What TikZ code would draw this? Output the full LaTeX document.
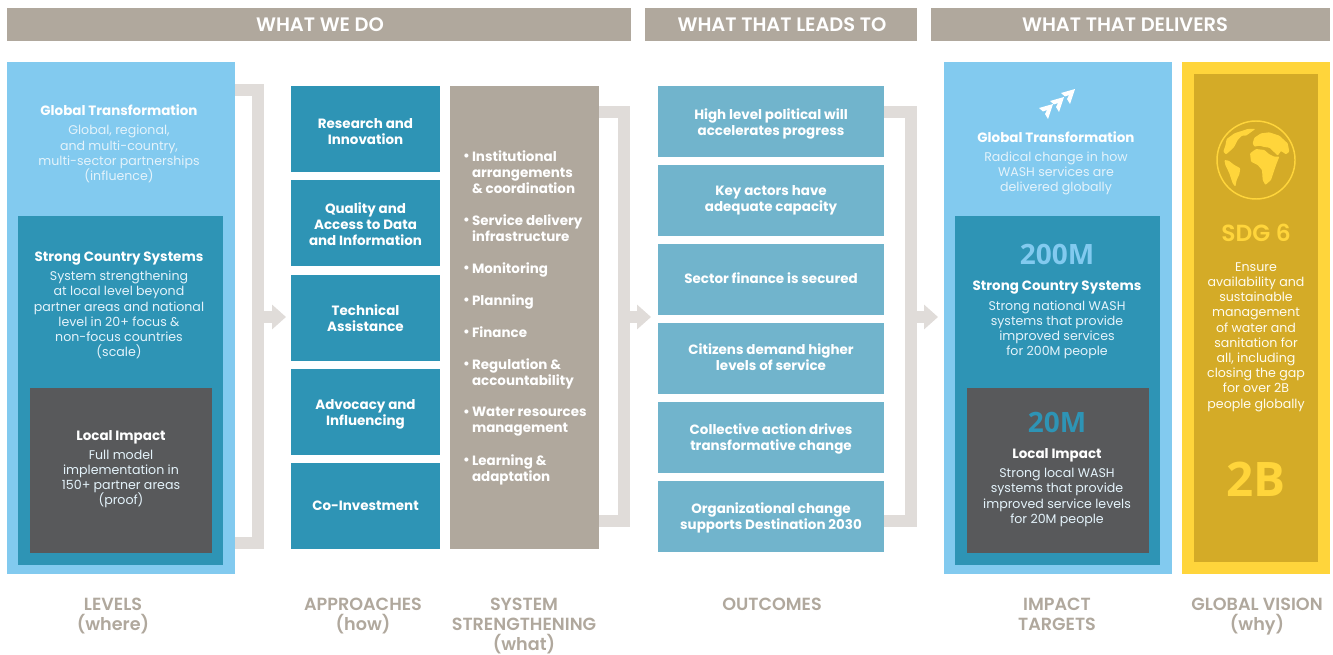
\documentclass[tikz,border=0pt]{standalone}
\usepackage{fontspec}
\setmainfont{Poppins}
\newfontfamily\bignum{Open Sans}
\newfontfamily\midfont{Poppins SemiBold}
\usetikzlibrary{arrows.meta}
\definecolor{headColor}{HTML}{B0A89D}
\definecolor{skyColor}{HTML}{82CAEF}
\definecolor{tealColor}{HTML}{2E94B5}
\definecolor{darkColor}{HTML}{58595B}
\definecolor{outcomeColor}{HTML}{71B4CC}
\definecolor{bracketColor}{HTML}{E0DCD9}
\definecolor{goldColor}{HTML}{D4AB27}
\definecolor{sunColor}{HTML}{FFD53B}
\definecolor{softColor}{HTML}{E4F3FB}
\tikzset{
  panel/.style={inner sep=0pt, outer sep=0pt, anchor=north west},
  title/.style={text=white, align=center, font=\fontsize{14.6}{17}\selectfont\midfont},
  boxtext/.style={text=white, align=center, font=\fontsize{10.1}{12}\selectfont\bfseries},
  bodytext/.style={text=softColor, align=center, font=\fontsize{9.45}{11.4}\selectfont},
  foot/.style={text=headColor, align=center, font=\fontsize{13.2}{15}\selectfont\midfont},
  bignumber/.style={font=\fontsize{21}{24}\selectfont\bignum\bfseries},
  bracket/.style={draw=bracketColor, line width=9pt, line join=miter},
  flow/.style={bracket, -{Triangle[length=10.5pt,width=18pt]}},
}
\begin{document}
\begin{tikzpicture}[x=0.75pt,y=-0.75pt]
  \useasboundingbox (0,0) rectangle (1333,655);

  % headings
  \node[panel, fill=headColor, minimum width=468pt, minimum height=24.75pt] (headDo) at (7,8) {};
  \node[panel, fill=headColor, minimum width=204pt, minimum height=24.75pt] (headLeads) at (645,8) {};
  \node[panel, fill=headColor, minimum width=299.25pt, minimum height=24.75pt] (headDelivers) at (931,8) {};
  \node[title] (headDoText) at (320,25) {WHAT WE DO};
  \node[title] (headLeadsText) at (782,25) {WHAT THAT LEADS TO};
  \node[title] (headDeliversText) at (1125,25) {WHAT THAT DELIVERS};

  % brackets
  \coordinate (arrowA) at (286,317);
  \coordinate (arrowB) at (651,317);
  \coordinate (arrowC) at (938,317);
  \coordinate (bracketA) at (258,90);
  \coordinate (bracketB) at (624,112);
  \coordinate (bracketC) at (911,112);

  % levels
  \node[panel, fill=skyColor, minimum width=171pt, minimum height=384pt] (levels) at (7,62) {};
  \node[panel, fill=tealColor, minimum width=153.75pt, minimum height=261.75pt] (country) at (18,216) {};
  \node[panel, fill=darkColor, minimum width=136.5pt, minimum height=123.75pt] (local) at (30,388) {};
  \node[boxtext] (levelsHead) at (119,110) {Global Transformation};
  \node[bodytext] (levelsBody) at (119,154) {Global, regional,\\and multi-country,\\multi-sector partnerships\\(influence)};
  \node[boxtext] (countryHead) at (119,259) {Strong Country Systems};
  \node[bodytext] (countryBody) at (119,315) {System strengthening\\at local level beyond\\partner areas and national\\level in 20+ focus \&\\non-focus countries\\(scale)};
  \node[boxtext] (localHead) at (121,437) {Local Impact};
  \node[bodytext] (localBody) at (121,479) {Full model\\implementation in\\150+ partner areas\\(proof)};

  % approaches
  \foreach \nm/\ytop/\dy/\txt in {research/86/3/{Research and\\Innovation},
                                  quality/180/1/{Quality and\\Access to Data\\and Information},
                                  technical/275/0/{Technical\\Assistance},
                                  advocacy/369/2/{Advocacy and\\Influencing},
                                  invest/463/0/{Co-Investment}}{
    \node[panel, fill=tealColor, minimum width=111.75pt, minimum height=64.5pt] (\nm) at (291,\ytop) {};
    \node[boxtext, yshift=\dy*-0.75pt] (\nm Text) at (\nm) {\txt};
  }

  % system strengthening
  \node[panel, fill=headColor, minimum width=111.75pt, minimum height=347.25pt] (system) at (450,86) {};
  \foreach \nm/\ytop/\txt in {itemA/151/{Institutional\\arrangements\\\& coordination},
                              itemB/215/{Service delivery\\infrastructure},
                              itemC/263/{Monitoring},
                              itemD/295/{Planning},
                              itemE/327/{Finance},
                              itemF/359/{Regulation \&\\accountability},
                              itemG/407/{Water resources\\management},
                              itemH/455/{Learning \&\\adaptation}}{
    \node[panel, boxtext, align=left] (\nm) at (472,\ytop) {\txt};
    \node[panel, boxtext, anchor=north east] (\nm Dot) at (\nm.north west) {\vphantom{l}\textbullet\,};
  }

  % outcomes
  \foreach \nm/\ytop/\dy/\txt in {political/86/2/{High level political will\\accelerates progress},
                                  actors/165/0/{Key actors have\\adequate capacity},
                                  finance/244/-1/{Sector finance is secured},
                                  citizens/323/-1/{Citizens demand higher\\levels of service},
                                  collective/402/1/{Collective action drives\\transformative change},
                                  organization/481/1/{Organizational change\\supports Destination 2030}}{
    \node[panel, fill=outcomeColor, minimum width=169.5pt, minimum height=53.25pt] (\nm) at (658,\ytop) {};
    \node[boxtext, yshift=\dy*-0.75pt] (\nm Text) at (\nm) {\txt};
  }

  % impact targets
  \node[panel, fill=skyColor, minimum width=171pt, minimum height=384pt] (impact) at (944,62) {};
  \node[panel, fill=tealColor, minimum width=153.75pt, minimum height=261.75pt] (national) at (955,216) {};
  \node[panel, fill=darkColor, minimum width=136.5pt, minimum height=123.75pt] (partner) at (967,388) {};
  \foreach \dx/\dy in {0/0,11/-7,22/-15}
    \fill[white, shift={(\dx,\dy)}] (1039,108) -- (1053,104) -- (1048,119) -- (1045,114) -- (1047,110) -- (1043,111.5) -- cycle;
  \node[boxtext] (impactHead) at (1056,137) {Global Transformation};
  \node[bodytext] (impactBody) at (1056,173.5) {Radical change in how\\WASH services are\\delivered globally};
  \node[bignumber, text=skyColor] (bigA) at (1057,254) {200M};
  \node[boxtext] (nationalHead) at (1057,288) {Strong Country Systems};
  \node[bodytext] (nationalBody) at (1057,330) {Strong national WASH\\systems that provide\\improved services\\for 200M people};
  \node[bignumber, text=tealColor] (bigB) at (1057,422) {20M};
  \node[boxtext] (partnerHead) at (1057,455) {Local Impact};
  \node[bodytext] (partnerBody) at (1057,497.5) {Strong local WASH\\systems that provide\\improved service levels\\for 20M people};

  % global vision
  \node[panel, fill=sunColor, minimum width=111pt, minimum height=384pt] (vision) at (1182,62) {};
  \node[panel, fill=goldColor, minimum width=93pt, minimum height=366pt] (visionIn) at (1194,74) {};
  \draw[sunColor, line width=1.1pt] (1256,160) circle (39);
  \begin{scope}[shift={(1206,115)}, x=0.25pt, y=-0.25pt]
    \fill[sunColor, rounded corners=0.6pt] (62,72) -- (85,55) -- (125,42) -- (148,42) -- (130,55) -- (120,62) -- (108,62) -- (95,75) -- (85,95) -- (72,108) -- (60,118) -- (52,110) -- (58,92) -- cycle;
    \fill[sunColor, rounded corners=0.6pt] (55,135) -- (68,137) -- (85,150) -- (103,160) -- (100,178) -- (92,195) -- (88,215) -- (80,205) -- (70,175) -- (58,150) -- cycle;
    \fill[sunColor, rounded corners=0.6pt] (145,68) -- (165,55) -- (190,52) -- (220,62) -- (245,85) -- (250,110) -- (240,118) -- (225,108) -- (215,122) -- (205,112) -- (190,98) -- (175,96) -- (160,92) -- (145,95) -- (140,85) -- cycle;
    \fill[sunColor, rounded corners=0.6pt] (132,115) -- (150,102) -- (175,105) -- (190,118) -- (205,125) -- (220,125) -- (212,145) -- (205,165) -- (195,195) -- (178,210) -- (170,195) -- (168,165) -- (155,150) -- (135,140) -- cycle;
  \end{scope}
  \node[text=sunColor, font=\fontsize{17.5}{19}\selectfont\midfont] (sdg) at (1256,233) {SDG 6};
  \node[bodytext, text=white!92!sunColor] (sdgBody) at (1256,337) {Ensure\\availability and\\sustainable\\management\\of water and\\sanitation for\\all, including\\closing the gap\\for over 2B\\people globally};
  \node[text=sunColor, font=\fontsize{35.7}{38}\selectfont\bignum\bfseries] (bigC) at (1256,479) {2B};

  % connectors
  \draw[bracket] (levels.east |- bracketA) -- (bracketA) -- (bracketA |- 0,543) -- (levels.east |- 0,543);
  \draw[flow] (bracketA |- arrowA) -- (arrowA);
  \draw[bracket] (system.east |- bracketB) -- (bracketB) -- (bracketB |- 0,521) -- (system.east |- 0,521);
  \draw[flow] (bracketB |- arrowB) -- (arrowB);
  \draw[bracket] (political.east |- bracketC) -- (bracketC) -- (bracketC |- 0,521) -- (organization.east |- 0,521);
  \draw[flow] (bracketC |- arrowC) -- (arrowC);

  % captions
  \node[foot, anchor=north] (footA) at (113,593) {LEVELS\\(where)};
  \node[foot, anchor=north] (footB) at (363,593) {APPROACHES\\(how)};
  \node[foot, anchor=north] (footC) at (524,593) {SYSTEM\\STRENGTHENING\\(what)};
  \node[foot, anchor=north] (footD) at (772,593) {OUTCOMES};
  \node[foot, anchor=north] (footE) at (1057,593) {IMPACT\\TARGETS};
  \node[foot, anchor=north] (footF) at (1257,593) {GLOBAL VISION\\(why)};
\end{tikzpicture}
\end{document}
